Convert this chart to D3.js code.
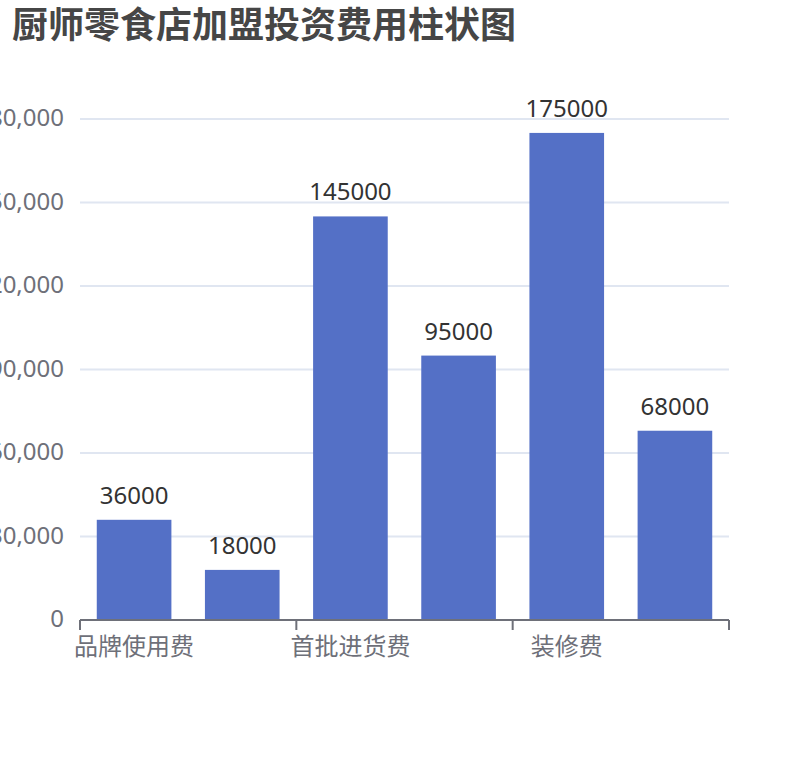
<!DOCTYPE html>
<html>
<head>
<meta charset="utf-8">
<script src="https://cdn.jsdelivr.net/npm/d3@7"></script>
<style>
  body { margin: 0; background: #fff; }
  svg { font-family: "Noto Sans", "Noto Sans CJK SC", sans-serif; }
</style>
</head>
<body>
<svg id="chart" width="810" height="760"></svg>
<script>
// chart data
var categories = ["品牌使用费", "加盟保证金", "首批进货费", "设备费", "装修费", "流动资金"];
var costs = [36000, 18000, 145000, 95000, 175000, 68000];
var yTicks = [0, 30000, 60000, 90000, 120000, 150000, 180000];
var title = "厨师零食店加盟投资费用柱状图";

var svg = d3.select("#chart");
var gLeft = 80, gRight = 729, gTop = 119, gBottom = 620;

var x = d3.scaleBand()
  .domain(categories)
  .range([gLeft, gRight])
  .paddingInner(0.31)
  .paddingOuter(0.155);

var y = d3.scaleLinear().domain([0, 180000]).range([gBottom, gTop]);

svg.append("text")
  .attr("x", 12)
  .attr("y", 38)
  .attr("font-size", 36)
  .attr("font-weight", "bold")
  .attr("fill", "#464646")
  .attr("font-family", "'Noto Sans CJK SC', sans-serif")
  .text(title);

// grid lines
svg.append("g").selectAll("line")
  .data(yTicks.slice(1))
  .enter().append("line")
  .attr("x1", gLeft).attr("x2", gRight)
  .attr("y1", function(d) { return y(d); })
  .attr("y2", function(d) { return y(d); })
  .attr("stroke", "#E0E6F1")
  .attr("stroke-width", 2);

// y axis labels
var yAxis = d3.axisLeft(y).tickValues(yTicks).tickSize(0).tickPadding(16)
  .tickFormat(d3.format(","));
var gy = svg.append("g").attr("transform", "translate(" + gLeft + ",0)").call(yAxis);
gy.select(".domain").remove();
gy.selectAll("text")
  .attr("font-size", 24)
  .attr("dy", "0.28em")
  .attr("fill", "#6E7079")
  .attr("font-family", "'Noto Sans', sans-serif");

// bars
svg.append("g").selectAll("rect")
  .data(costs)
  .enter().append("rect")
  .attr("x", function(d, i) { return x(categories[i]); })
  .attr("y", function(d) { return y(d); })
  .attr("width", x.bandwidth())
  .attr("height", function(d) { return gBottom - y(d); })
  .attr("fill", "#5470c6");

svg.append("g").selectAll("text")
  .data(costs)
  .enter().append("text")
  .attr("x", function(d, i) { return x(categories[i]) + x.bandwidth() / 2; })
  .attr("y", function(d) { return y(d) - 16; })
  .attr("text-anchor", "middle")
  .attr("font-size", 24)
  .attr("fill", "#333")
  .text(function(d) { return d; });

// x axis: ticks on band boundaries, every other label (like echarts auto interval)
var gx = svg.append("g");
gx.append("line")
  .attr("x1", gLeft).attr("x2", gRight)
  .attr("y1", gBottom).attr("y2", gBottom)
  .attr("stroke", "#6E7079").attr("stroke-width", 2);

var tickPos = categories.filter(function(d, i) { return i % 2 == 0; })
  .map(function(d) { return x(d) - x.step() * x.paddingInner() / 2; });
tickPos.push(gRight);
tickPos[0] = gLeft;
gx.selectAll(".tk")
  .data(tickPos)
  .enter().append("line")
  .attr("x1", function(d) { return d; }).attr("x2", function(d) { return d; })
  .attr("y1", gBottom).attr("y2", gBottom + 10)
  .attr("stroke", "#6E7079").attr("stroke-width", 2);

gx.selectAll(".lbl")
  .data(categories.filter(function(d, i) { return i % 2 == 0; }))
  .enter().append("text")
  .attr("x", function(d) { return x(d) + x.bandwidth() / 2; })
  .attr("y", 655)
  .attr("text-anchor", "middle")
  .attr("font-size", 24)
  .attr("fill", "#6E7079")
  .attr("font-family", "'Noto Sans CJK SC', sans-serif")
  .text(function(d) { return d; });
</script>
</body>
</html>
